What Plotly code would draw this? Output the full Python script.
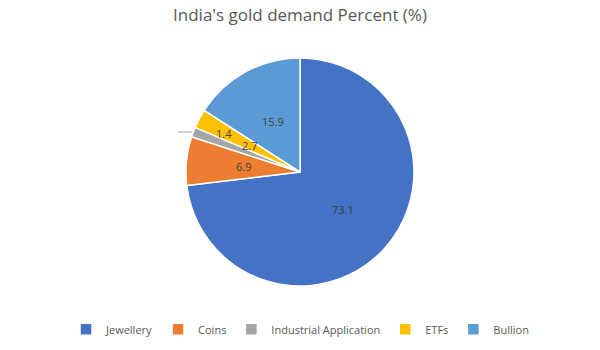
import math
import plotly.graph_objects as go

categories = ["Jewellery", "Coins", "Industrial Application", "ETFs", "Bullion"]
values = [73.1, 6.9, 1.4, 2.7, 15.9]
colors = ["#4472C4", "#ED7D31", "#A5A5A5", "#FFC000", "#5B9BD5"]

W, H = 600, 350
M_T, M_B = 58, 64
cx, cy = W / 2, (M_T + (H - M_B)) / 2
r = (H - M_B - M_T) / 2

fig = go.Figure()

fig.add_trace(go.Pie(
    labels=categories,
    values=values,
    sort=False,
    direction="clockwise",
    rotation=0,
    marker=dict(colors=colors, line=dict(color="white", width=1.5)),
    textinfo="none",
    hoverinfo="label+value",
    domain=dict(x=[0, 1], y=[0, 1]),
))

# data-label placement (Excel "best fit" style): mid-angle at half radius
label_radius = {c: 0.5 for c in categories}
label_angle_shift = {c: 0.0 for c in categories}
label_radius["Industrial Application"] = 0.75
label_angle_shift["Industrial Application"] = 6.5

total = sum(values)
cum = 0.0
annotations = []
for cat, v in zip(categories, values):
    mid_deg = (cum + v / 2) / total * 360 + label_angle_shift[cat]
    a = math.radians(mid_deg)
    f = label_radius[cat]
    x = cx + f * r * math.sin(a)
    y = cy - f * r * math.cos(a)
    annotations.append(dict(x=x, y=y, xref="x", yref="y", text=f"{v}", showarrow=False,
                            font=dict(family="Open Sans", size=11, color="#404040")))
    if cat == "Industrial Application":
        ea = math.radians((cum + v / 2) / total * 360)
        ex = cx + r * math.sin(ea)
        ey = cy - r * math.cos(ea)
        fig.add_trace(go.Scatter(x=[ex - 1, ex - 15], y=[ey, ey], mode="lines",
                                 line=dict(color="#A6A6A6", width=1),
                                 showlegend=False, hoverinfo="skip"))
    cum += v

fig.update_layout(
    width=W, height=H,
    margin=dict(l=0, r=0, t=M_T, b=M_B),
    paper_bgcolor="white",
    plot_bgcolor="rgba(0,0,0,0)",
    xaxis=dict(range=[0, W], visible=False, fixedrange=True),
    yaxis=dict(range=[H - M_B, M_T], visible=False, fixedrange=True),
    title=dict(text="India's gold demand Percent (%)", x=0.5, xanchor="center",
               y=0.958, yanchor="middle",
               font=dict(family="Open Sans", size=17, color="#595959")),
    annotations=annotations,
    legend=dict(orientation="h", x=0.5, xanchor="center", y=-0.19, yanchor="middle",
                font=dict(family="Open Sans", size=11, color="#595959"),
                itemwidth=30, traceorder="normal"),
)

fig.write_html("out.html")
